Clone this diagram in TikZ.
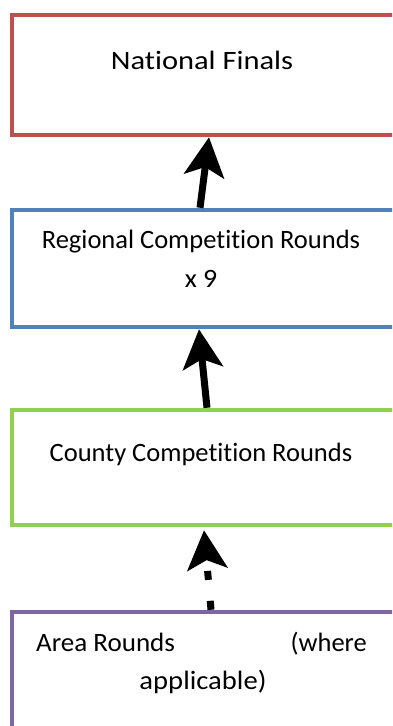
\documentclass[tikz,border=0pt]{standalone}
\usepackage{fontspec}
\usepackage{graphicx}
\setmainfont{Carlito}[Ligatures=NoCommon]
\usetikzlibrary{arrows.meta}
\definecolor{natred}{HTML}{C0504D}
\definecolor{regblue}{HTML}{4F81BD}
\definecolor{cntgreen}{HTML}{92D050}
\definecolor{areapurple}{HTML}{8064A2}
\tikzset{
  stagebox/.style={draw=#1, line width=4.5pt, fill=white, minimum width=388pt, inner sep=0pt},
  lbl/.style={inner sep=0pt, anchor=base, font=\fontsize{26.5}{30}\selectfont},
  uparrow/.style={line width=7pt, -{Stealth[length=39pt, width=40pt, inset=9pt]}},
}
\begin{document}
\begin{tikzpicture}[x=1pt, y=-1pt]
\useasboundingbox (0,0) rectangle (392,726);
\clip (0,0) rectangle (392,726);
\node[stagebox=natred, minimum height=120pt] (nat) at (206,75) {};
\node[stagebox=regblue, minimum height=117pt] (reg) at (206,268.5) {};
\node[stagebox=cntgreen, minimum height=115pt] (cnt) at (206,467.5) {};
\node[stagebox=areapurple, minimum height=128pt] (area) at (206,676) {};

\node[lbl] (natt) at (202,69) {\scalebox{1.15}[1]{National Finals}};
\node[lbl] (regt1) at (201,248) {\scalebox{1.0}[1]{Regional Competition Rounds}};
\node[lbl] (regt2) at (201,287) {\scalebox{1.05}[1]{x 9}};
\node[lbl] (cntt) at (201,461) {\scalebox{1.0}[1]{County Competition Rounds}};
\node[lbl, anchor=base west] (areat1) at (36,651) {\scalebox{1.02}[1]{Area Rounds}};
\node[lbl, anchor=base east] (areat2) at (367,651) {(where};
\node[lbl] (areat3) at (203,689) {\scalebox{1.08}[1]{applicable)}};

\draw[uparrow] ([xshift=-6pt]reg.north) -- ([xshift=3pt]nat.south);
\draw[uparrow] ([xshift=1pt]cnt.north) -- ([xshift=-7pt]reg.south);
\draw[uparrow, dash pattern=on 9pt off 21pt] ([xshift=5pt]area.north) -- ([xshift=-2pt,yshift=-3pt]cnt.south);
\end{tikzpicture}
\end{document}
